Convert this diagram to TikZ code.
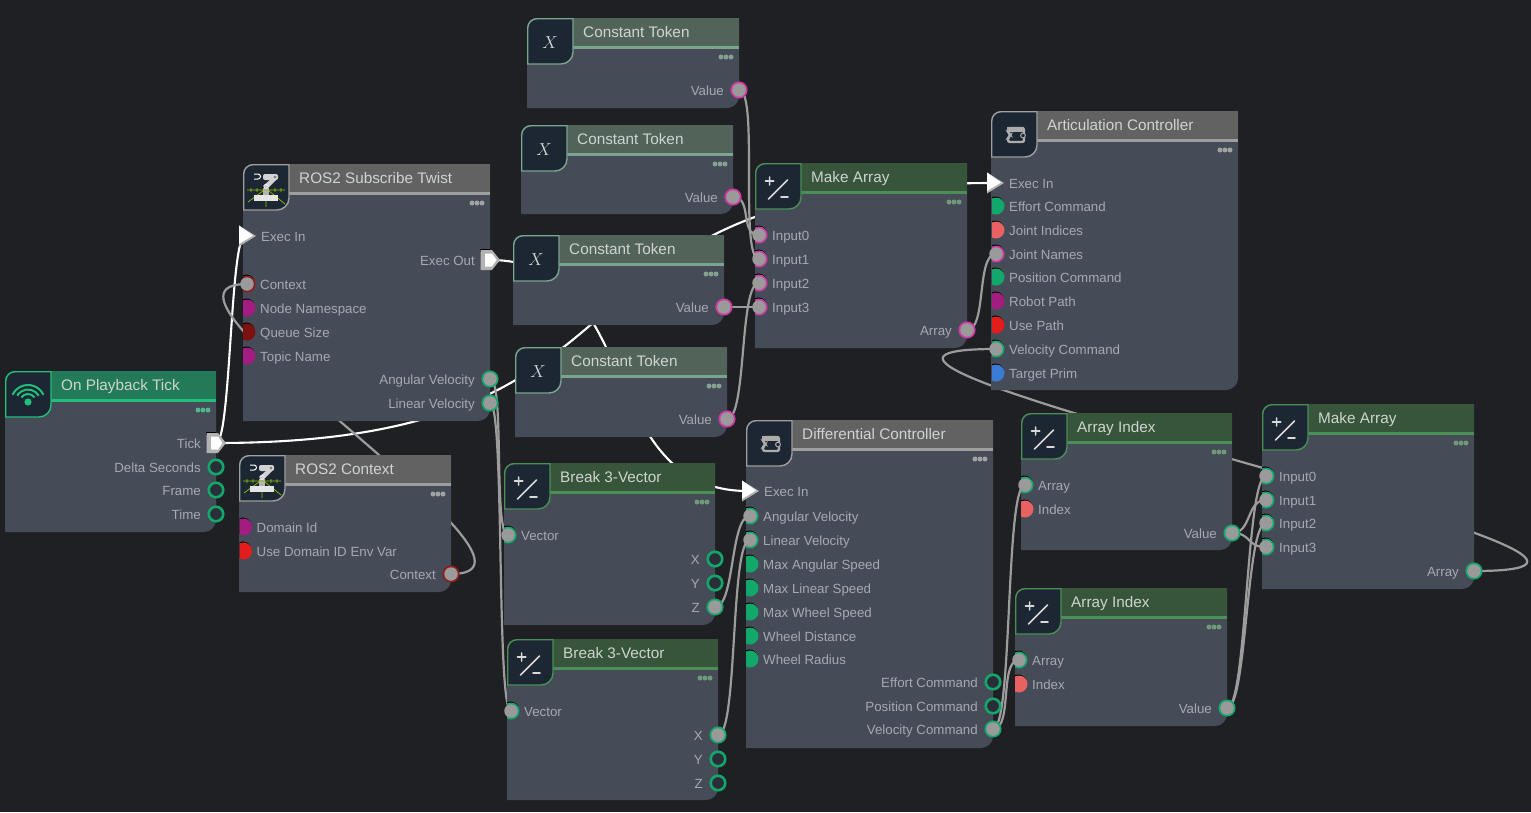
\documentclass[tikz,border=0pt]{standalone}
\usepackage{fontspec}
\setmainfont{Liberation Sans}
\usetikzlibrary{backgrounds}

\definecolor{canvas}{HTML}{1F2023}
\definecolor{panelfill}{HTML}{464B58}
\definecolor{iconfill}{HTML}{1C2733}
\definecolor{labelcol}{HTML}{A6A9AE}
\definecolor{titlecol}{HTML}{CFD4D0}
\definecolor{wirecol}{HTML}{9C9C9C}
\definecolor{linkcol}{HTML}{9A9A9A}
\definecolor{pinhole}{HTML}{2A2E38}
\definecolor{rosgreen}{HTML}{8FC400}
% title band, stripe and dots per kind of node
\definecolor{bandtick}{HTML}{237A58}
\definecolor{edgetick}{HTML}{22BF7A}
\definecolor{dotstick}{HTML}{4FB78A}
\definecolor{bandgray}{HTML}{626262}
\definecolor{edgegray}{HTML}{9E9E9E}
\definecolor{dotsgray}{HTML}{A2A2A2}
\definecolor{bandtoken}{HTML}{52645A}
\definecolor{edgetoken}{HTML}{7AA58E}
\definecolor{dotstoken}{HTML}{85A08F}
\definecolor{bandmath}{HTML}{36553B}
\definecolor{edgemath}{HTML}{4A8F55}
\definecolor{dotsmath}{HTML}{6F9A78}
% pin colours
\definecolor{vecgreen}{HTML}{13A86B}
\definecolor{intsalmon}{HTML}{E86262}
\definecolor{tokenpink}{HTML}{D03AA5}
\definecolor{pathplum}{HTML}{A31C80}
\definecolor{uintred}{HTML}{7D1010}
\definecolor{ctxred}{HTML}{8F1A1A}
\definecolor{boolred}{HTML}{E31C1C}
\definecolor{primblue}{HTML}{3A7BD5}

\tikzstyle{panel}    =[rectangle, inner sep=0pt, outer sep=0pt, anchor=north west]
\tikzstyle{titletext}=[text=titlecol, inner sep=0pt, anchor=base west,
                       font=\fontsize{15.3}{17}\selectfont]
\tikzstyle{pinlabel} =[text=labelcol, inner sep=0pt,
                       font=\fontsize{13.3}{15}\selectfont]
\tikzstyle{pinspot}  =[circle, minimum size=17pt, inner sep=0pt, outer sep=0pt]
\tikzstyle{linked}   =[circle, fill=linkcol, minimum size=13.5pt, inner sep=0pt]
\tikzstyle{wire}     =[wirecol, line width=2.2pt]
\tikzstyle{execwire} =[white, line width=2.1pt]
\tikzstyle{iconline} =[line width=1.7pt, line cap=round]

% icons, in the coordinates of the 46 x 46 icon box
\newcommand{\iconwifi}{%
  \fill[edgetick] (23,-31) circle (3.6);
  \foreach \r/\a in {8/35,12.5/30,17/25}
    \draw[edgetick, line width=2pt] (23,-31) ++(\a:\r) arc[start angle=\a, end angle=180-\a, radius=\r];
}
\newcommand{\iconros}{%
  \draw[white, line width=1pt] (11,-10) -- (15,-10) arc[start angle=90, end angle=-90, radius=2.5] -- (11,-15);
  \fill[gray!35, rounded corners=2pt] (20,-10) rectangle (35,-16);
  \fill[gray!35] (28,-15) -- (33,-16) -- (25,-24) -- (20,-22) -- cycle;
  \fill[gray!60] (20,-24) rectangle (26,-31);
  \draw[rosgreen, line width=.7pt]
    (4,-26) -- (42,-26) (20,-27) -- (5,-38) (26,-27) -- (42,-40) (23,-37) -- (23,-43)
    (8,-24) -- (8,-28) (14,-24) -- (14,-28) (32,-24) -- (32,-28) (38,-24) -- (38,-28);
  \fill[gray!20] (11,-30.5) rectangle (35,-37);
  \draw[white, fill=gray] (32,-13) circle (2);
  \draw[white, fill=gray!40] (23,-22.5) circle (2.2);
}
\newcommand{\iconctrl}{%
  \draw[gray!65, line width=2.4pt, rounded corners=2pt]
    (17,-17) -- (33,-17) -- (33,-31) -- (17,-31) -- (17,-26) -- (20,-24) -- (17,-22) -- cycle;
  \fill[gray!65] (16,-16) rectangle (33,-21);
  \filldraw[draw=gray!65, fill=iconfill, line width=1pt] (32,-24.5) circle (2.4);
}
\newcommand{\iconex}{%
  \node[text=white!85!black, inner sep=0pt, font=\fontsize{19}{19}\selectfont] (iconx) at (23,-24.5) {$X$};
}
\newcommand{\iconsign}{%
  \draw[iconline, white!85!black] (14.6,-14) -- (14.6,-22) (10.5,-18) -- (18.7,-18)
    (13.5,-36) -- (32.5,-17) (26,-34) -- (33,-34);
}

% name, x, y, width, height, colour kind, icon, title
\newcommand{\flownode}[8]{%
  \begin{scope}[shift={(#2,-#3)}]
    \node[panel, minimum width=#4, minimum height=#5] (#1) at (0,0) {};
    \fill[panelfill] (0,-10) arc[start angle=180, end angle=90, radius=10] -- (#4,0)
      -- (#4,-#5+12) arc[start angle=0, end angle=-90, radius=12] -- (0,-#5) -- cycle;
    \fill[band#6] (40,0) rectangle (#4,-28);
    \fill[edge#6] (40,-28) rectangle (#4,-31);
    \filldraw[fill=iconfill, draw=edge#6, line width=1.4pt] (.7,-10) arc[start angle=180, end angle=90, radius=9.3]
      -- (46,-.7) -- (46,-34) arc[start angle=0, end angle=-90, radius=12] -- (.7,-46) -- cycle;
    \csname icon#7\endcsname
    \node[titletext] (#1-title) at (56,-19) {#8};
    \foreach \d in {8,13,18} \fill[dots#6] (#4-\d,-39) circle (2.5);
  \end{scope}
}
% name, x, y, colour, label
\newcommand{\inpin}[5]{%
  \begin{scope}
    \clip (#2-4,-#3-12) rectangle (#2+14,-#3+12);
    \fill[black] (#2-.6,-#3+1) circle (8.5);
    \node[pinspot, fill=#4] (#1) at (#2,-#3) {};
  \end{scope}
  \node[pinlabel, anchor=base west] (#1-label) at (#2+13,-#3-5) {#5};
}
\newcommand{\outpin}[5]{%
  \node[pinspot, minimum size=14.5pt, fill=pinhole, draw=#4, line width=2.6pt] (#1) at (#2,-#3) {};
  \node[pinlabel, anchor=base east] (#1-label) at (#2-15,-#3-5) {#5};
}
\newcommand{\execin}[4]{%
  \coordinate (#1) at (#2,-#3);
  \fill[gray!60] (#1) ++(-6,10.5) -- ++(17,-10.5) -- ++(-17,-10.5) -- cycle;
  \fill[white] (#1) ++(-6,10.5) -- ++(14,-10) -- ++(-14,-8.5) -- cycle;
  \node[pinlabel, anchor=base west] (#1-label) at (#2+16,-#3-5) {#4};
}
\newcommand{\execout}[4]{%
  \coordinate (#1) at (#2,-#3);
  \fill[black] (#1) ++(-10,11) rectangle ++(10,-3);
  \fill[gray!60] (#1) ++(-9.5,10) -- ++(11.5,0) -- ++(8,-10) -- ++(-8,-10) -- ++(-11.5,0) -- cycle;
  \fill[white] (#1) ++(-5,6.5) -- ++(7,0) -- ++(4.5,-6.5) -- ++(-4.5,-6.5) -- ++(-7,0) -- cycle;
  \node[pinlabel, anchor=base east] (#1-label) at (#2-15,-#3-5) {#4};
}

\begin{document}
\begin{tikzpicture}[x=1pt, y=1pt]
    \useasboundingbox (0,0) rectangle (1531,-812);
    \begin{scope}[on background layer]
        \fill[canvas] (0,0) rectangle (1531,-812);
    \end{scope}

    \flownode{tick}{5}{371}{211}{161}{tick}{wifi}{On Playback Tick}
    \flownode{sub}{243}{164}{247}{257}{gray}{ros}{ROS2 Subscribe Twist}
    \flownode{ctx}{239}{455}{212}{137}{gray}{ros}{ROS2 Context}
    \flownode{tokenA}{527}{18}{212}{90}{token}{ex}{Constant Token}
    \flownode{tokenB}{521}{125}{212}{89}{token}{ex}{Constant Token}
    \flownode{tokenC}{513}{235}{211}{90}{token}{ex}{Constant Token}
    \flownode{tokenD}{515}{347}{212}{90}{token}{ex}{Constant Token}
    \flownode{joints}{755}{163}{212}{185}{math}{sign}{Make Array}
    \flownode{art}{991}{111}{247}{279}{gray}{ctrl}{Articulation Controller}
    \flownode{diff}{746}{420}{247}{328}{gray}{ctrl}{Differential Controller}
    \flownode{breakA}{504}{463}{211}{162}{math}{sign}{Break 3-Vector}
    \flownode{breakB}{507}{639}{211}{161}{math}{sign}{Break 3-Vector}
    \flownode{indexA}{1021}{413}{211}{137}{math}{sign}{Array Index}
    \flownode{indexB}{1015}{588}{212}{138}{math}{sign}{Array Index}
    \flownode{speeds}{1262}{404}{212}{185}{math}{sign}{Make Array}

    % exec pins
    \execout{tickOut}{216}{443}{Tick}
    \execin{subIn}{245}{236}{Exec In}
    \execout{subOut}{490}{260}{Exec Out}
    \execin{artIn}{993}{183}{Exec In}
    \execin{diffIn}{748}{491}{Exec In}

    % input pins
    \foreach \n/\py/\c/\t in {subCtx/284/ctxred/Context, subNs/308/pathplum/Node Namespace,
        subQueue/332/uintred/Queue Size, subTopic/356/pathplum/Topic Name}
        {\inpin{\n}{247}{\py}{\c}{\t}}
    \foreach \n/\py/\c/\t in {ctxId/527/pathplum/Domain Id, ctxEnv/551/boolred/Use Domain ID Env Var}
        {\inpin{\n}{243.5}{\py}{\c}{\t}}
    \foreach \n/\py/\t in {jointsA/235/Input0, jointsB/259/Input1, jointsC/283/Input2, jointsD/307/Input3}
        {\inpin{\n}{759}{\py}{tokenpink}{\t}}
    \foreach \n/\py/\c/\t in {artEffort/206/vecgreen/Effort Command, artIdx/230/intsalmon/Joint Indices,
        artNames/254/tokenpink/Joint Names, artPos/277/vecgreen/Position Command,
        artPath/301/pathplum/Robot Path, artUse/325/boolred/Use Path,
        artVel/349/vecgreen/Velocity Command, artPrim/373/primblue/Target Prim}
        {\inpin{\n}{996}{\py}{\c}{\t}}
    \foreach \n/\py/\t in {diffAng/516/Angular Velocity, diffLin/540/Linear Velocity,
        diffMaxAng/564/Max Angular Speed, diffMaxLin/588/Max Linear Speed,
        diffMaxWheel/612/Max Wheel Speed, diffDist/636/Wheel Distance, diffRad/659/Wheel Radius}
        {\inpin{\n}{750}{\py}{vecgreen}{\t}}
    \inpin{breakAIn}{508}{535}{vecgreen}{Vector}
    \inpin{breakBIn}{511}{711}{vecgreen}{Vector}
    \inpin{indexAIn}{1025}{485}{vecgreen}{Array}
    \inpin{indexAIdx}{1025}{509}{intsalmon}{Index}
    \inpin{indexBIn}{1019}{660}{vecgreen}{Array}
    \inpin{indexBIdx}{1019}{684}{intsalmon}{Index}
    \foreach \n/\py/\t in {speedsA/476/Input0, speedsB/500/Input1, speedsC/523/Input2, speedsD/547/Input3}
        {\inpin{\n}{1266}{\py}{vecgreen}{\t}}

    % output pins
    \foreach \n/\py/\t in {tickDelta/467/Delta Seconds, tickFrame/490/Frame, tickTime/514/Time}
        {\outpin{\n}{216}{\py}{vecgreen}{\t}}
    \foreach \n/\py/\t in {subAng/379/Angular Velocity, subLin/403/Linear Velocity}
        {\outpin{\n}{490}{\py}{vecgreen}{\t}}
    \outpin{ctxOut}{451}{574}{ctxred}{Context}
    \outpin{tokenAOut}{739}{90}{tokenpink}{Value}
    \outpin{tokenBOut}{733}{197}{tokenpink}{Value}
    \outpin{tokenCOut}{724}{307}{tokenpink}{Value}
    \outpin{tokenDOut}{727}{419}{tokenpink}{Value}
    \outpin{jointsOut}{967}{330}{tokenpink}{Array}
    \foreach \n/\py/\t in {breakAX/559/X, breakAY/583/Y, breakAZ/607/Z}
        {\outpin{\n}{715}{\py}{vecgreen}{\t}}
    \foreach \n/\py/\t in {breakBX/735/X, breakBY/759/Y, breakBZ/783/Z}
        {\outpin{\n}{718}{\py}{vecgreen}{\t}}
    \foreach \n/\py/\t in {diffEffort/682/Effort Command, diffPos/706/Position Command, diffVel/729/Velocity Command}
        {\outpin{\n}{993}{\py}{vecgreen}{\t}}
    \outpin{indexAOut}{1232}{533}{vecgreen}{Value}
    \outpin{indexBOut}{1227}{708}{vecgreen}{Value}
    \outpin{speedsOut}{1474}{571}{vecgreen}{Array}

    % pins with a wire on them turn gray
    \foreach \p in {subCtx,jointsA,jointsB,jointsC,jointsD,artNames,artVel,diffAng,diffLin,
        breakAIn,breakBIn,indexAIn,indexBIn,speedsA,speedsB,speedsC,speedsD,subAng,subLin,
        ctxOut,tokenAOut,tokenBOut,tokenCOut,tokenDOut,jointsOut,breakAZ,breakBX,diffVel,
        indexAOut,indexBOut,speedsOut}
        \node[linked] (\p-dot) at (\p) {};

    \begin{scope}[on background layer]
        \foreach \a/\b/\d in {tickOut/artIn/475, subOut/diffIn/155, tickOut/subIn/15}
            \draw[execwire] (\a.center) .. controls +(\d,0) and +(-\d,0) .. (\b.center);
        \foreach \a/\b/\d in {ctxOut/subCtx/132, speedsOut/artVel/300, jointsOut/artNames/20,
            tokenAOut/jointsB/20, tokenBOut/jointsA/20, tokenCOut/jointsD/10, tokenDOut/jointsC/20,
            subAng/breakAIn/15, subLin/breakBIn/15, breakAZ/diffAng/20, breakBX/diffLin/20,
            diffVel/indexAIn/20, diffVel/indexBIn/20, indexAOut/speedsB/20, indexAOut/speedsD/20,
            indexBOut/speedsA/20, indexBOut/speedsC/20}
            \draw[wire] (\a.center) .. controls +(\d,0) and +(-\d,0) .. (\b.center);
    \end{scope}
\end{tikzpicture}
\end{document}
